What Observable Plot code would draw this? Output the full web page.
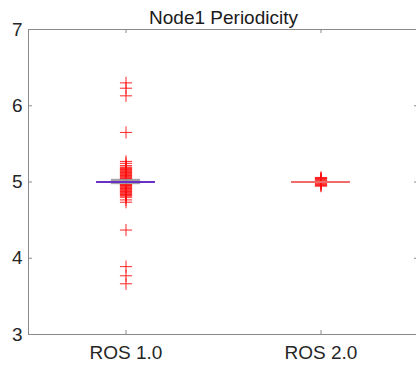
<!DOCTYPE html>
<html>
<head>
<meta charset="utf-8">
<script src="https://cdn.jsdelivr.net/npm/d3@7"></script>
<script src="https://cdn.jsdelivr.net/npm/@observablehq/plot@0.6"></script>
<style>
  html, body { margin: 0; padding: 0; background: #fff; }
</style>
</head>
<body>
<div id="chart"></div>
<script>
const title = "Node1 Periodicity";
const categories = ["ROS 1.0", "ROS 2.0"];
const positions = [1, 2];
const medians = [5.0, 5.0];
const q1 = [4.965, 5.0];
const q3 = [5.035, 5.0];
const boxColors = ["#9a9a9a", "#e86060"];
const medianColors = ["#6a2fc4", "#f06a6a"];
const yTicks = [3, 4, 5, 6, 7];

// outliers
const outliersRos1 = [
  6.30, 6.23, 6.13, 5.65,
  5.27, 5.245, 5.215, 5.195, 5.185, 5.175, 5.165, 5.155, 5.145, 5.135, 5.125,
  5.115, 5.105, 5.095, 5.085, 5.075, 5.065, 5.055, 5.045, 5.04, 5.035, 5.03,
  4.97, 4.965, 4.96, 4.955, 4.945, 4.935, 4.925, 4.915, 4.905, 4.895, 4.885,
  4.875, 4.865, 4.855, 4.845, 4.835, 4.825, 4.815, 4.80, 4.765, 4.735,
  4.37, 3.89, 3.77, 3.665
];
const outliersRos2 = [5.06, 5.05, 5.045, 5.035, 5.025, 5.015, 5.005, 4.995, 4.985, 4.975, 4.965, 4.955, 4.945];

const points = [
  ...outliersRos1.map(v => ({x: positions[0], y: v})),
  ...outliersRos2.map(v => ({x: positions[1], y: v}))
];
const boxes = categories.map((c, i) => ({
  c, x: positions[i], q1: q1[i], q3: q3[i], med: medians[i],
  box: boxColors[i], medc: medianColors[i]
}));

const boxHalf = 0.075;
const medHalf = 0.151;
const font = "Liberation Sans, Arial, sans-serif";
const axisColor = "#8a8a8a";

const chart = Plot.plot({
  width: 416,
  height: 367,
  marginLeft: 28,
  marginRight: -2,
  marginTop: 29,
  marginBottom: 33,
  style: {fontFamily: font, fontSize: "19px", color: "#262626", background: "#fff"},
  x: {domain: [0.5, 2.5], label: null},
  y: {domain: [3, 7], label: null},
  marks: [
    Plot.frame({stroke: axisColor, strokeWidth: 1}),
    Plot.dot(points, {x: "x", y: "y", symbol: "plus", r: 4, stroke: "#ff1010", strokeWidth: 1, strokeOpacity: 0.9}),
    Plot.rect(boxes, {x1: d => d.x - boxHalf, x2: d => d.x + boxHalf, y1: "q1", y2: "q3", fill: "box", fillOpacity: 0.9}),
    Plot.ruleY(boxes, {y: "med", x1: d => d.x - medHalf, x2: d => d.x + medHalf, stroke: "medc", strokeWidth: 2}),
    Plot.axisX(positions, {anchor: "bottom", label: null, tickSize: 0, tickPadding: 11, tickFormat: (d, i) => categories[i], fontSize: 19, fill: "#262626"}),
    Plot.axisY(yTicks, {anchor: "left", label: null, tickSize: 0, tickPadding: 6, tickFormat: d => String(d), fontSize: 19, fill: "#262626"}),
    Plot.tickX(positions, {x: d => d, insetTop: 301, stroke: axisColor}),
    Plot.tickX(positions, {x: d => d, insetBottom: 301, stroke: axisColor}),
    Plot.tickY(yTicks, {y: d => d, insetRight: 386, stroke: axisColor}),
    Plot.tickY(yTicks, {y: d => d, insetLeft: 386, stroke: axisColor}),
    Plot.text([title], {frameAnchor: "top", lineAnchor: "bottom", dy: -6, text: d => d, fontSize: 19, fill: "#1a1a1a"})
  ]
});
document.getElementById("chart").appendChild(chart);
</script>
</body>
</html>
